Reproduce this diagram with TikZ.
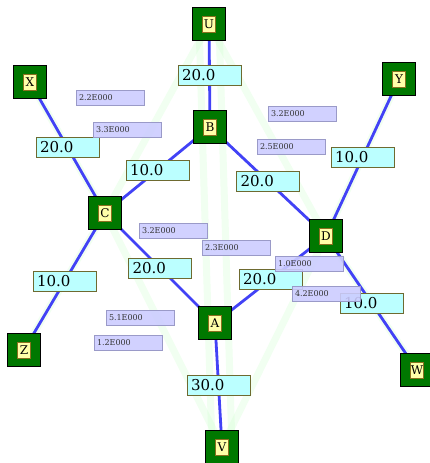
\documentclass[tikz,border=0pt]{standalone}
\usepackage{fontspec}
\setmainfont{DejaVu Serif}
\usetikzlibrary{positioning}
\definecolor{netgreen}{HTML}{007800}
\definecolor{netblue}{HTML}{4242F6}
\definecolor{netcyan}{HTML}{BBFFFF}
\definecolor{netolive}{HTML}{6E6A30}
\definecolor{netyellow}{HTML}{FFFFA8}
\definecolor{netbrown}{HTML}{8A7020}
\definecolor{netlilac}{HTML}{CCCCFF}
\definecolor{netlilacline}{HTML}{9A9AC8}
\definecolor{netflowc}{HTML}{C8FFC8}
\tikzset{
  netnode/.style   = {draw=black, fill=netgreen, line width=1.2pt,
                      minimum size=33pt, inner sep=0pt},
  netletter/.style = {draw=netbrown, fill=netyellow, line width=0.6pt,
                      minimum width=13pt, minimum height=16pt, inner sep=0.5pt,
                      font=\fontsize{12}{13}\selectfont},
  netedge/.style   = {draw=netblue, line width=2.8pt},
  netflow/.style   = {draw=netflowc, line width=7pt, opacity=0.25,
                      line cap=round, line join=round},
  netcap/.style    = {draw=netolive, fill=netcyan, line width=1pt,
                      text width=55pt, align=left, inner xsep=4pt,
                      minimum height=20pt, inner ysep=0pt,
                      font=\fontsize{15}{16}\selectfont},
  netinfo/.style   = {draw=netlilacline, fill=netlilac, fill opacity=0.9,
                      text opacity=1, line width=0.8pt,
                      text width=62pt, align=left, inner xsep=3pt,
                      minimum height=14.5pt, inner ysep=0pt, text=black!80,
                      font=\fontsize{8}{9}\selectfont},
}

\begin{document}
\begin{tikzpicture}[x=1pt, y=-1pt]
    \useasboundingbox (0,0) rectangle (430,463);
    \fill[white] (0,0) rectangle (430,463);

    % node positions
    \coordinate (pU) at (209,24);
    \coordinate (pX) at (30,82);
    \coordinate (pY) at (399,79);
    \coordinate (pB) at (210,127);
    \coordinate (pC) at (105,213);
    \coordinate (pD) at (326,236);
    \coordinate (pA) at (215,323);
    \coordinate (pZ) at (24,350);
    \coordinate (pW) at (417,370);
    \coordinate (pV) at (222,447);

    % flow paths, kept faint under the pipes
    \draw[netflow] (pZ) -- (pC) -- (pU);
    \draw[netflow] (pX) -- (pC) -- (pV);
    \draw[netflow] (pY) -- (pD) -- (pV);
    \draw[netflow] (pW) -- (pD) -- (pU);
    \draw[netflow] ([xshift=-10pt]pU) -- ([xshift=-10pt]pV);
    \draw[netflow] ([xshift=10pt]pU) -- ([xshift=10pt]pV);

    % pipes with their lengths
    \draw[netedge] (pU) -- node[netcap] {20.0} (pB);
    \draw[netedge] (pX) -- node[netcap] {20.0} (pC);
    \draw[netedge] (pB) -- node[netcap] {10.0} (pC);
    \draw[netedge] (pB) -- node[netcap] {20.0} (pD);
    \draw[netedge] (pY) -- node[netcap] {10.0} (pD);
    \draw[netedge] (pC) -- node[netcap] {10.0} (pZ);
    \draw[netedge] (pC) -- node[netcap] {20.0} (pA);
    \draw[netedge] (pA) -- node[netcap] {20.0} (pD);
    \draw[netedge] (pD) -- node[netcap] {10.0} (pW);
    \draw[netedge] (pA) -- node[netcap] {30.0} (pV);

    % junctions
    \node[netnode] (U) at (pU) {};  \node[netletter] (Ul) at (pU) {U};
    \node[netnode] (X) at (pX) {};  \node[netletter] (Xl) at (pX) {X};
    \node[netnode] (Y) at (pY) {};  \node[netletter] (Yl) at (pY) {Y};
    \node[netnode] (B) at (pB) {};  \node[netletter] (Bl) at (pB) {B};
    \node[netnode] (C) at (pC) {};  \node[netletter] (Cl) at (pC) {C};
    \node[netnode] (D) at (pD) {};  \node[netletter] (Dl) at (pD) {D};
    \node[netnode] (A) at (pA) {};  \node[netletter] (Al) at (pA) {A};
    \node[netnode] (Z) at (pZ) {};  \node[netletter] (Zl) at (pZ) {Z};
    \node[netnode] (W) at (pW) {};  \node[netletter] (Wl) at (pW) {W};
    \node[netnode] (V) at (pV) {};  \node[netletter] (Vl) at (pV) {V};

    % flow rates
    \node[netinfo] (q1) at (110,98) {2.2E000};
    \node[netinfo] (q2) at (127,130) {3.3E000};
    \node[netinfo] (q3) at (302,114) {3.2E000};
    \node[netinfo] (q4) at (291,147) {2.5E000};
    \node[netinfo] (q5) at (173,231) {3.2E000};
    \node[netinfo] (q6) at (236,248) {2.3E000};
    \node[netinfo] (q7) at (309,264) {1.0E000};
    \node[netinfo] (q8) at (326,294) {4.2E000};
    \node[netinfo] (q9) at (140,318) {5.1E000};
    \node[netinfo] (q10) at (128,343) {1.2E000};
\end{tikzpicture}
\end{document}
